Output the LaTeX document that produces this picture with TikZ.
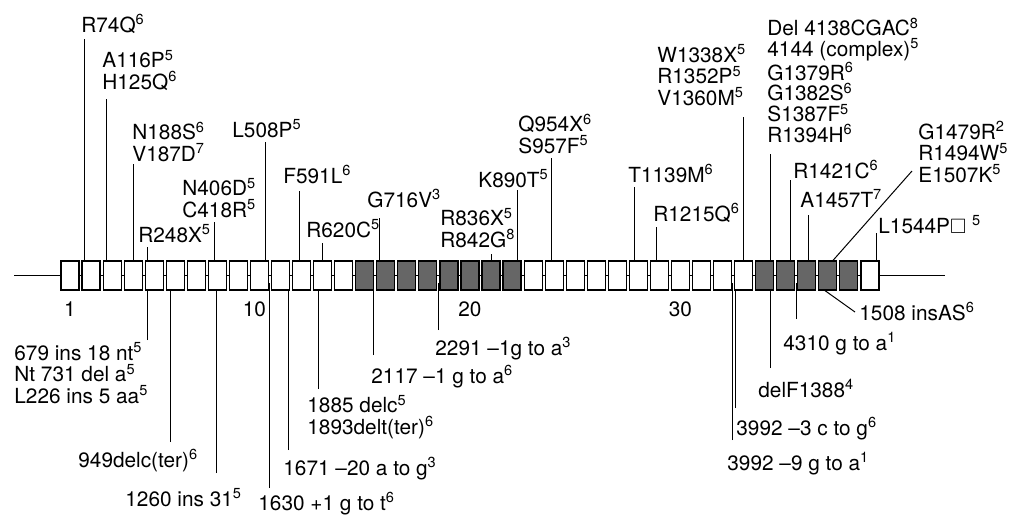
\documentclass[tikz,border=0pt]{standalone}
\usepackage{fontspec}
\setmainfont{TeX Gyre Heros}
\usepackage{amssymb}
\usetikzlibrary{positioning}

\definecolor{exondark}{gray}{0.4}
\newcommand{\refn}[1]{\textsuperscript{#1}}

\tikzset{
  exon/.style={draw, line width=0.6pt, fill=white, minimum width=9pt, minimum height=14.5pt, inner sep=0pt},
  darkexon/.style={exon, fill=exondark},
  mut/.style={inner sep=0pt, anchor=base west, align=left, font=\fontsize{10.4}{10.75}\selectfont},
  num/.style={inner sep=0pt, font=\fontsize{10.4}{12}\selectfont},
  tick/.style={line width=0.5pt}
}

\begin{document}
\begin{tikzpicture}[x=0.5pt, y=-0.5pt]
  \useasboundingbox (0,0) rectangle (1009,516);

  % gene line and exons
  \coordinate (lstart) at (14,275.5);
  \coordinate (lend) at (945,275.5);
  \coordinate (spl) at (0,283);
  \draw[tick] (lstart) -- (lend);
  \foreach \i in {1,...,14}
    \node[exon] (e\i) at ({70+(\i-1)*21.05},275.5) {};
  \foreach \i in {15,...,22}
    \node[darkexon] (e\i) at ({70+(\i-1)*21.05},275.5) {};
  \foreach \i in {23,...,33}
    \node[exon] (e\i) at ({70+(\i-1)*21.05},275.5) {};
  \foreach \i in {34,...,38}
    \node[darkexon] (e\i) at ({70+(\i-1)*21.05},275.5) {};
  \node[exon] (e39) at ({70+38*21.05},275.5) {};

  \node[num] (n1) [below=5.5pt of e1] {1};
  \node[num] (n10) [below=5.5pt of e10, xshift=-2.5pt] {10};
  \node[num] (n20) [below=5.5pt of e20] {20};
  \node[num] (n30) [below=5.5pt of e30] {30};

  % mutations above the gene (multi-line texts sit on their last line)
  \node[mut] (r74q) at (81,32) {R74Q\refn{6}};
  \node[mut] (a116p) at (102,89) {A116P\refn{5}\\H125Q\refn{6}};
  \node[mut] (n188s) at (132,161) {N188S\refn{6}\\V187D\refn{7}};
  \node[mut] (r248x) at (138,242) {R248X\refn{5}};
  \node[mut] (n406d) at (182,217) {N406D\refn{5}\\C418R\refn{5}};
  \node[mut] (l508p) at (232,137) {L508P\refn{5}};
  \node[mut] (f591l) at (283,183) {F591L\refn{6}};
  \node[mut] (r620c) at (306,237) {R620C\refn{5}};
  \node[mut] (g716v) at (367,207) {G716V\refn{3}};
  \node[mut] (r836x) at (440,247) {R836X\refn{5}\\R842G\refn{8}};
  \node[mut] (k890t) at (478,187) {K890T\refn{5}};
  \node[mut] (q954x) at (518,153) {Q954X\refn{6}\\S957F\refn{5}};
  \node[mut] (t1139m) at (628,182) {T1139M\refn{6}};
  \node[mut] (r1215q) at (653,221) {R1215Q\refn{6}};
  \node[mut] (w1338x) at (657,105) {W1338X\refn{5}\\R1352P\refn{5}\\V1360M\refn{5}};
  \node[mut, font=\fontsize{10.4}{10.3}\selectfont] (del4138) at (767,142)
    {Del 4138CGAC\refn{8}\\4144 (complex)\refn{5}\\G1379R\refn{6}\\G1382S\refn{6}\\S1387F\refn{5}\\R1394H\refn{6}};
  \node[mut] (r1421c) at (793,178) {R1421C\refn{6}};
  \node[mut] (a1457t) at (800,207) {A1457T\refn{7}};
  \node[mut] (g1479r) at (918,182) {G1479R\refn{2}\\R1494W\refn{5}\\E1507K\refn{5}};
  \node[mut] (l1544p) at (878,233) {L1544P$\square$ \refn{5}};

  \foreach \x/\y/\e in {84.7/39/2, 106/99/3, 133/164/4, 147/247/5, 214/222/8,
      265/142/10, 299/191/12, 322/243/13, 379/218/16, 491/254/21, 517/190/22,
      551/158/24, 634/187/28, 656/227/29, 743/117/33, 770/154/34, 790/180/35,
      808/215/36, 876/233/39}
    \draw[tick] (\x,\y) coordinate (u) -- (u |- e\e.north);
  \coordinate (d1) at (912,171);
  \coordinate (d1b) at (833,0);
  \draw[tick] (d1) -- (d1b |- e37.north);

  % mutations below the gene
  \node[mut] (ins679) at (14,403) {679 ins 18 nt\refn{5}\\Nt 731 del a\refn{5}\\L226 ins 5 aa\refn{5}};
  \node[mut] (del949) at (78,467) {949delc(ter)\refn{6}};
  \node[mut] (ins1260) at (125,506) {1260 ins 31\refn{5}};
  \node[mut] (sp1630) at (258,510) {1630 +1 g to t\refn{6}};
  \node[mut] (sp1671) at (283,475) {1671 --20 a to g\refn{3}};
  \node[mut] (del1885) at (307,434) {1885 delc\refn{5}\\1893delt(ter)\refn{6}};
  \node[mut] (sp2117) at (371,383) {2117 --1 g to a\refn{6}};
  \node[mut] (sp2291) at (435,355) {2291 --1g to a\refn{3}};
  \node[mut] (sp3992c) at (736,435) {3992 --3 c to g\refn{6}};
  \node[mut] (sp3992g) at (727,470) {3992 --9 g to a\refn{1}};
  \node[mut] (delf1388) at (758,397) {delF1388\refn{4}};
  \node[mut] (g4310) at (783,350) {4310 g to a\refn{1}};
  \node[mut] (ins1508) at (859,320) {1508 insAS\refn{6}};

  \foreach \x/\y/\e in {147/340/5, 170/442/6, 216/473/8, 288/450/11,
      318/389/13, 373/355/15, 735/408/33, 770/368/34}
    \draw[tick] (\x,\y) coordinate (v) -- (v |- e\e.south);
  \foreach \x/\y in {269.5/488, 438.5/330, 732/440, 796.5/319}
    \draw[tick] (\x,\y) coordinate (w) -- (w |- spl);
  \coordinate (d2) at (855,312);
  \coordinate (d2b) at (825,0);
  \draw[tick] (d2) -- (d2b |- e37.south);

\end{tikzpicture}
\end{document}
